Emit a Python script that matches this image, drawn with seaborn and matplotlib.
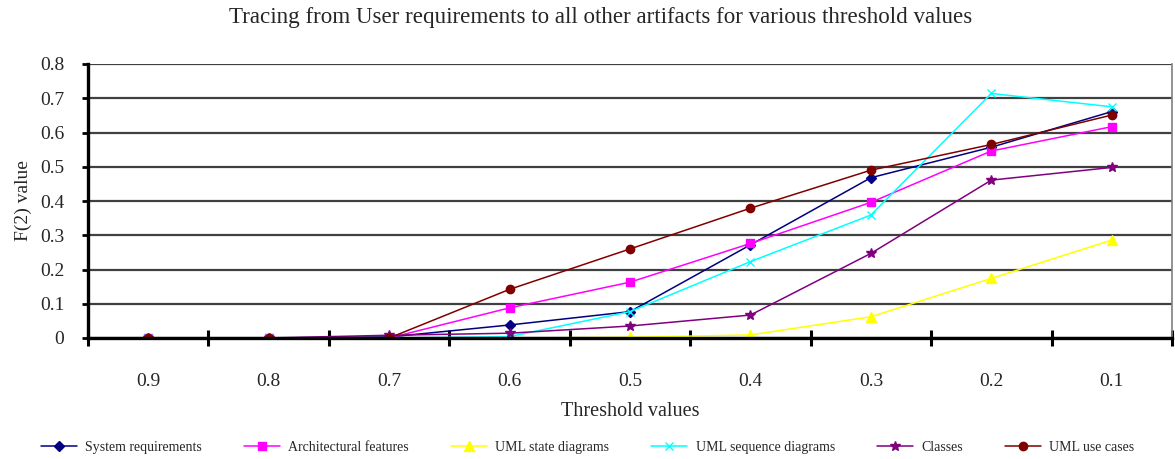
import matplotlib
matplotlib.use("Agg")
import matplotlib.pyplot as plt
from matplotlib.ticker import FixedLocator, NullFormatter
import seaborn as sns
import pandas as pd

thresholds = ["0.9", "0.8", "0.7", "0.6", "0.5", "0.4", "0.3", "0.2", "0.1"]

system_requirements = [0.0, 0.0, 0.003, 0.038, 0.077, 0.272, 0.468, 0.557, 0.661]
architectural_features = [0.0, 0.0, 0.0, 0.088, 0.163, 0.276, 0.396, 0.546, 0.617]
uml_state_diagrams = [0.0, 0.0, 0.0, 0.0, 0.002, 0.009, 0.062, 0.174, 0.286]
uml_sequence_diagrams = [0.0, 0.0, 0.0, 0.004, 0.077, 0.223, 0.359, 0.714, 0.675]
classes = [0.0, 0.0, 0.008, 0.014, 0.035, 0.067, 0.247, 0.461, 0.498]
uml_use_cases = [0.0, 0.0, 0.0, 0.142, 0.260, 0.379, 0.490, 0.565, 0.651]

series_names = ["System requirements", "Architectural features", "UML state diagrams",
                "UML sequence diagrams", "Classes", "UML use cases"]
series_values = [system_requirements, architectural_features, uml_state_diagrams,
                 uml_sequence_diagrams, classes, uml_use_cases]

colors = ["#000080", "#FF00FF", "#FFFF00", "#00FFFF", "#800080", "#800000"]
marker_styles = ["D", "s", "^", "x", "*", "o"]
marker_sizes = [5, 6, 7, 6, 7, 6]

rows = []
for name, vals in zip(series_names, series_values):
    for i, v in enumerate(vals):
        rows.append({"pos": i, "value": v, "series": name})
df = pd.DataFrame(rows)

sns.set_theme(style="white")
plt.rcParams["font.family"] = ["Liberation Serif", "DejaVu Serif"]

fig = plt.figure(figsize=(11.75, 4.59), dpi=100)
ax = fig.add_axes([88 / 1175, 1 - 338 / 459, (1172 - 88) / 1175, (338 - 64) / 459])

for name, col, mk, ms in zip(series_names, colors, marker_styles, marker_sizes):
    sub = df[df["series"] == name]
    sns.lineplot(data=sub, x="pos", y="value", ax=ax, color=col, marker=mk,
                 markersize=ms, markeredgecolor=col, markeredgewidth=1.0,
                 linewidth=1.1, label=name, legend=False)

ax.set_xlim(-0.5, len(thresholds) - 0.5)
ax.set_ylim(0, 0.8)

# horizontal gridlines
ax.set_yticks([0.0, 0.1, 0.2, 0.3, 0.4, 0.5, 0.6, 0.7, 0.8])
ax.set_yticklabels(["0", "0.1", "0.2", "0.3", "0.4", "0.5", "0.6", "0.7", "0.8"])
ax.yaxis.grid(True, color="#404040", linewidth=1.6)
ax.xaxis.grid(False)
ax.set_axisbelow(True)

# category labels at centres, tick marks at category boundaries
ax.set_xticks(range(len(thresholds)))
ax.set_xticklabels(thresholds)
ax.xaxis.set_minor_locator(FixedLocator([i + 0.5 for i in range(-1, len(thresholds))]))
ax.xaxis.set_minor_formatter(NullFormatter())
ax.tick_params(axis="x", which="major", length=0, pad=25, labelsize=14)
ax.tick_params(axis="x", which="minor", direction="inout", length=12, width=2.2,
               color="black", bottom=True)
ax.tick_params(axis="y", which="major", direction="out", length=4, width=2,
               color="black", left=True, pad=13, labelsize=14)

for side in ["left", "bottom"]:
    ax.spines[side].set_color("black")
    ax.spines[side].set_linewidth(2.4)
ax.spines["top"].set_visible(False)
ax.spines["right"].set_color("#808080")
ax.spines["right"].set_linewidth(1.2)

ax.set_xlabel("Threshold values", fontsize=14.5, labelpad=9)
ax.set_ylabel("F(2) value", fontsize=14, labelpad=6)

fig.text(601 / 1175, 1 - 17 / 459, "Tracing from User requirements to all other artifacts for various threshold values",
         ha="center", va="center", fontsize=16.6)

handles, labels = ax.get_legend_handles_labels()
fig.legend(handles, labels, loc="lower left", bbox_to_anchor=(0.024, -0.016, 0.952, 0.06),
           mode="expand", ncol=6, frameon=False, fontsize=10, handlelength=2.6,
           handletextpad=0.6)

fig.savefig("out.png", dpi=100, facecolor="white")
